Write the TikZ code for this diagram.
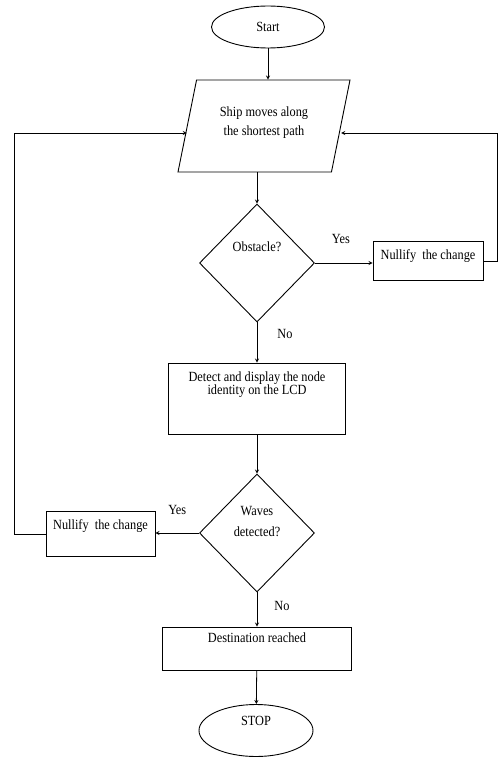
\documentclass[tikz,border=0pt]{standalone}
\usepackage{fontspec}
\setmainfont[FakeStretch=0.88]{Liberation Serif}
\usetikzlibrary{shapes.geometric}

\tikzset{
	flow/.style={draw, line width=0.9pt, inner sep=1pt, align=center, font=\fontsize{14}{19}\selectfont},
	terminal/.style={flow, ellipse, minimum width=113pt, minimum height=42pt},
	io/.style={flow, trapezium, trapezium left angle=65.5, trapezium right angle=114.5, trapezium stretches body, minimum width=172pt, minimum height=92pt},
	decision/.style={flow, diamond, minimum width=115pt, minimum height=118pt},
	process/.style={flow, rectangle},
	answer/.style={font=\fontsize{14}{19}\selectfont, inner sep=0pt},
	line/.style={line width=0.8pt}
}

\begin{document}
\begin{tikzpicture}[x=1pt, y=-1pt, >=stealth]
\useasboundingbox (0,0) rectangle (499,757);

\node [terminal] (start) at (268,27) {Start};
\node [io, text depth=10pt] (ship) at (264,126) {Ship moves along\\the shortest path};
\node [decision, text depth=33pt] (obstacle) at (257,263) {Obstacle?};
\node [process, minimum width=110pt, minimum height=39pt, text depth=13pt] (nullify-1) at (428,261) {Nullify~ the change};
\node [process, minimum width=177pt, minimum height=71pt, font=\fontsize{14}{13}\selectfont, text depth=31pt] (detect) at (257,398.5) {Detect and display the node\\identity on the LCD};
\node [decision, font=\fontsize{14}{21}\selectfont, text depth=24pt] (waves) at (257,533) {Waves\\detected?};
\node [process, minimum width=109pt, minimum height=45pt, text depth=19pt] (nullify-2) at (100.5,534) {Nullify~ the change};
\node [process, minimum width=189pt, minimum height=43pt, text depth=22pt] (destination) at (257,648.5) {Destination reached};
\node [terminal, minimum width=114pt, minimum height=52pt, text depth=20pt] (stop) at (256,730.5) {STOP};

%loop back corners
\coordinate (loop-right) at (497,133);
\coordinate (loop-left) at (14,133);

%main column
\draw [->, line] (start) -- (start |- ship.north);
\draw [->, line] (obstacle.north |- ship.south) -- (obstacle);
\draw [->, line] (obstacle) -- node [answer, pos=0.29, right=20pt] {No} (detect);
\draw [->, line] (detect) -- (waves);
\draw [->, line] (waves) -- node [answer, pos=0.4, right=17pt] {No} (destination);
\draw [->, line] (destination) -- (stop);

%side branches
\draw [->, line] (obstacle) -- node [answer, pos=0.45, above=19pt] {Yes} (obstacle -| nullify-1.west);
\draw [->, line] (waves) -- node [answer, pos=0.5, above=18pt] {Yes} (waves -| nullify-2.east);
\draw [->, line] (nullify-1) -| (loop-right) -- (loop-right -| ship.right side);
\draw [->, line] (nullify-2) -| (loop-left) -- (loop-left -| ship.left side);

\end{tikzpicture}
\end{document}
